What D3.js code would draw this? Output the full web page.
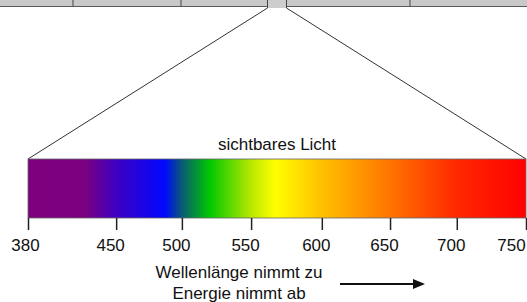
<!DOCTYPE html>
<html>
<head>
<meta charset="utf-8">
<script src="https://cdn.jsdelivr.net/npm/d3@7"></script>
<style>
	body { margin: 0; background: #fff; }
	svg { display: block; font-family: Arial, "Liberation Sans", sans-serif; }
</style>
</head>
<body>
<div id="chart"></div>
<script>
// wavelengths in nm
const tickValues		= [380, 450, 500, 550, 600, 650, 700, 750];
const stopWavelengths	= [380, 425, 449, 487, 500, 520, 550, 567, 600, 650, 700, 750];
const stopColors		= ['#7e007e', '#7b0080', '#4000c0', '#0008ff', '#0a5a74', '#00c800', '#b8e800', '#ffff00', '#ffc000', '#ff7400', '#ff2800', '#ff0000'];
const titleText			= 'sichtbares Licht';
const captionLines		= ['Wellenlänge nimmt zu', 'Energie nimmt ab'];

const width		= 527;
const height	= 302;

let bar		= { left: 28, right: 526, top: 159, bottom: 218 };
// the axis of the original is not quite even, tick spacing as share of bar width
let tickFrac	= [0, 0.177, 0.309, 0.448, 0.590, 0.727, 0.861, 1];

let x = d3.scaleLinear()
	.domain(tickValues)
	.range(tickFrac.map((f) => (bar.left + f * (bar.right - bar.left))));

let svg = d3.select('#chart').append('svg')
	.attr('width', width)
	.attr('height', height);

let defs = svg.append('defs');
let grad = defs.append('linearGradient')
	.attr('id', 'spectrum')
	.attr('gradientUnits', 'userSpaceOnUse')
	.attr('x1', bar.left).attr('x2', bar.right)
	.attr('y1', 0).attr('y2', 0);

grad.selectAll('stop')
	.data(stopWavelengths)
	.enter().append('stop')
		.attr('offset', (d) => ((x(d) - bar.left) / (bar.right - bar.left)))
		.attr('stop-color', (d, i) => (stopColors[i]));

// strip of the whole em spectrum on top
let strip		= { h: 6.5, notchH: 8 };
let notch		= [267.5, 286.5];
let dividers	= [73, 181, 410];

let emStrip = svg.append('g').attr('id', 'em-strip');
emStrip.append('rect')
	.attr('x', 0).attr('y', 0)
	.attr('width', width).attr('height', strip.h)
	.attr('fill', '#c8c8c8');
emStrip.append('rect')
	.attr('x', notch[0]).attr('y', 0)
	.attr('width', notch[1] - notch[0]).attr('height', strip.notchH)
	.attr('fill', '#cdcdcd');
emStrip.selectAll('.edge')
	.data([[0, notch[0]], [notch[1], width]])
	.enter().append('line')
		.attr('x1', (d) => (d[0])).attr('x2', (d) => (d[1]))
		.attr('y1', strip.h).attr('y2', strip.h)
		.attr('stroke', '#5a5a5a').attr('stroke-width', 1);
emStrip.selectAll('.div')
	.data(dividers)
	.enter().append('line')
		.attr('x1', (d) => (d)).attr('x2', (d) => (d))
		.attr('y1', 0).attr('y2', strip.h)
		.attr('stroke', '#444').attr('stroke-width', 1);
emStrip.selectAll('.notch')
	.data(notch)
	.enter().append('line')
		.attr('x1', (d) => (d)).attr('x2', (d) => (d))
		.attr('y1', 0).attr('y2', strip.notchH)
		.attr('stroke', '#444').attr('stroke-width', 1);

// zoom lines
svg.selectAll('.zoom')
	.data([[notch[0], x(tickValues[0])], [notch[1], x(tickValues[tickValues.length - 1])]])
	.enter().append('line')
		.attr('x1', (d) => (d[0])).attr('y1', strip.notchH)
		.attr('x2', (d) => (d[1])).attr('y2', bar.top)
		.attr('stroke', '#333').attr('stroke-width', 1);

svg.append('rect')
	.attr('x', x(tickValues[0]))
	.attr('y', bar.top)
	.attr('width', x(tickValues[tickValues.length - 1]) - x(tickValues[0]))
	.attr('height', bar.bottom - bar.top)
	.attr('fill', 'url(#spectrum)')
	.attr('stroke', '#666').attr('stroke-width', 0.8);

svg.append('text')
	.attr('x', (bar.left + bar.right) / 2)
	.attr('y', 150)
	.attr('text-anchor', 'middle')
	.attr('font-size', 17)
	.attr('fill', '#111')
	.text(titleText);

let axis = svg.append('g')
	.attr('transform', 'translate(0,' + bar.bottom + ')')
	.call(d3.axisBottom(x).tickValues(tickValues).tickSize(12).tickSizeOuter(0).tickFormat(d3.format('d')));

axis.select('.domain').remove();
axis.selectAll('.tick line').attr('stroke', '#222').attr('stroke-width', 1.5);
axis.selectAll('.tick text')
	.attr('font-family', 'Arial, "Liberation Sans", sans-serif')
	.attr('font-size', 17)
	.attr('fill', '#111')
	.attr('y', 21)
	.attr('x', (d) => (Math.min(Math.max(x(d) - 6, 25), width - 16) - x(d)));

svg.selectAll('.caption')
	.data(captionLines)
	.enter().append('text')
		.attr('x', 239)
		.attr('y', (d, i) => (278 + i * 21))
		.attr('text-anchor', 'middle')
		.attr('font-size', 17)
		.attr('fill', '#111')
		.text((d) => (d));

// arrow
svg.append('line')
	.attr('x1', 340).attr('x2', 415)
	.attr('y1', 284).attr('y2', 284)
	.attr('stroke', '#111').attr('stroke-width', 2);
svg.append('path')
	.attr('d', 'M413,279 L425,284 L413,289 Z')
	.attr('fill', '#111');
</script>
</body>
</html>
